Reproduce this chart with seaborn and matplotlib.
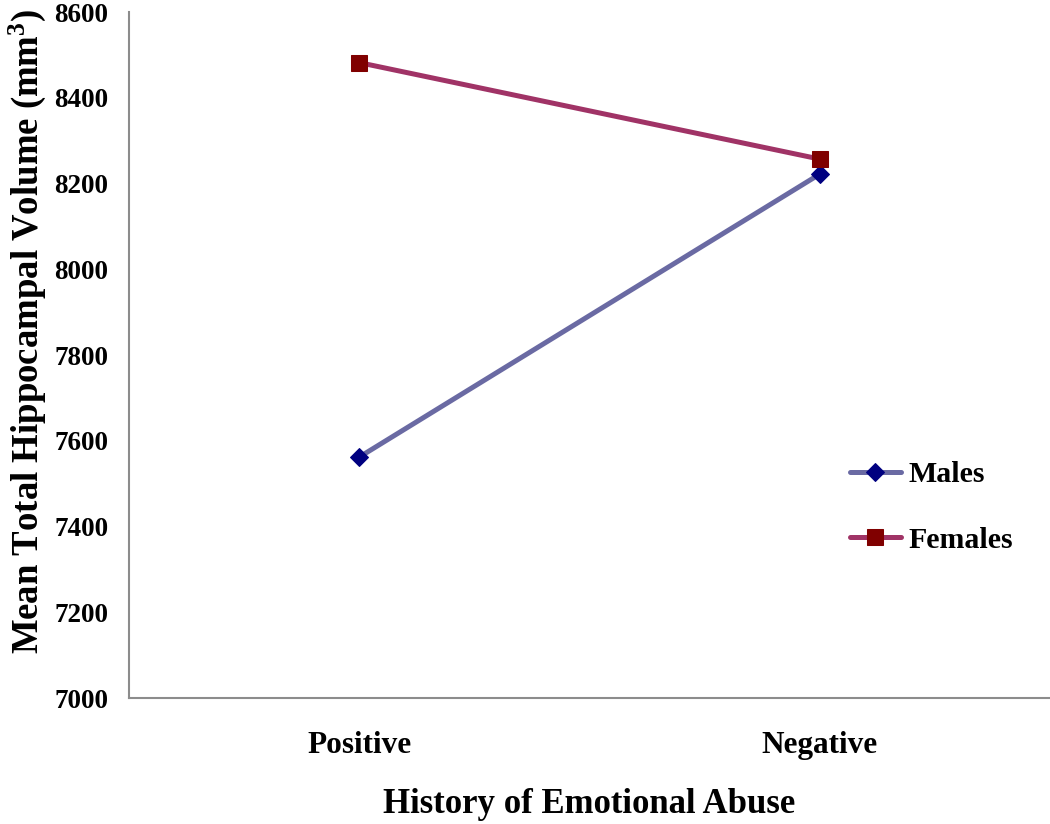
import matplotlib
matplotlib.use("Agg")
import matplotlib.pyplot as plt
import seaborn as sns
import pandas as pd

# values
abuse_levels = ["Positive", "Negative"]
males = [7562, 8222]
females = [8482, 8257]
y_ticks = [7000, 7200, 7400, 7600, 7800, 8000, 8200, 8400, 8600]

df = pd.DataFrame({
    "abuse": abuse_levels * 2,
    "volume": males + females,
    "sex": ["Males"] * 2 + ["Females"] * 2,
})

sns.set_style("white")
plt.rcParams["font.family"] = ["Liberation Serif", "DejaVu Serif"]
plt.rcParams["font.weight"] = "bold"
plt.rcParams["mathtext.fontset"] = "custom"
plt.rcParams["mathtext.rm"] = "Liberation Serif:bold"
plt.rcParams["mathtext.it"] = "Liberation Serif:bold"
for key in ["text.color", "axes.labelcolor", "xtick.color", "ytick.color"]:
    plt.rcParams[key] = "black"

styles = {
    "Males": dict(color="#6A6AA3", marker="D", markersize=9,
                  markerfacecolor="#000080", markeredgecolor="#000080"),
    "Females": dict(color="#A03366", marker="s", markersize=11,
                    markerfacecolor="#800000", markeredgecolor="#800000"),
}

fig = plt.figure(figsize=(10.5, 8.24), dpi=100)
ax = fig.add_axes([0.1229, 0.1529, 0.8771, 0.8325])

for sex in ["Males", "Females"]:
    sub = df[df["sex"] == sex]
    sns.lineplot(data=sub, x="abuse", y="volume", ax=ax, label=sex,
                 linewidth=3.6, sort=False, **styles[sex])

ax.set_xlim(-0.5, 1.5)
ax.set_ylim(7000, 8600)
ax.set_yticks(y_ticks)
ax.tick_params(axis="y", length=0, pad=15, labelsize=19.5)
ax.tick_params(axis="x", length=0, pad=24, labelsize=22.5)
for lab in ax.get_xticklabels() + ax.get_yticklabels():
    lab.set_fontweight("bold")

ax.set_xlabel("History of Emotional Abuse", fontsize=25, fontweight="bold", labelpad=20)
ax.set_ylabel("Mean Total Hippocampal Volume (mm$^{3}$)", fontsize=26.5,
              fontweight="bold")
ax.yaxis.set_label_coords(-0.088, 0.535)

for side in ["top", "right"]:
    ax.spines[side].set_visible(False)
for side in ["left", "bottom"]:
    ax.spines[side].set_color("#8C8C8C")
    ax.spines[side].set_linewidth(1.5)

ax.legend(loc="upper left", bbox_to_anchor=(850 / 1050, 1 - 461 / 824),
          bbox_transform=fig.transFigure, frameon=False, fontsize=21.5,
          handlelength=1.7, handletextpad=0.25, labelspacing=1.3,
          borderpad=0, borderaxespad=0)

fig.savefig("out.png", dpi=100)
